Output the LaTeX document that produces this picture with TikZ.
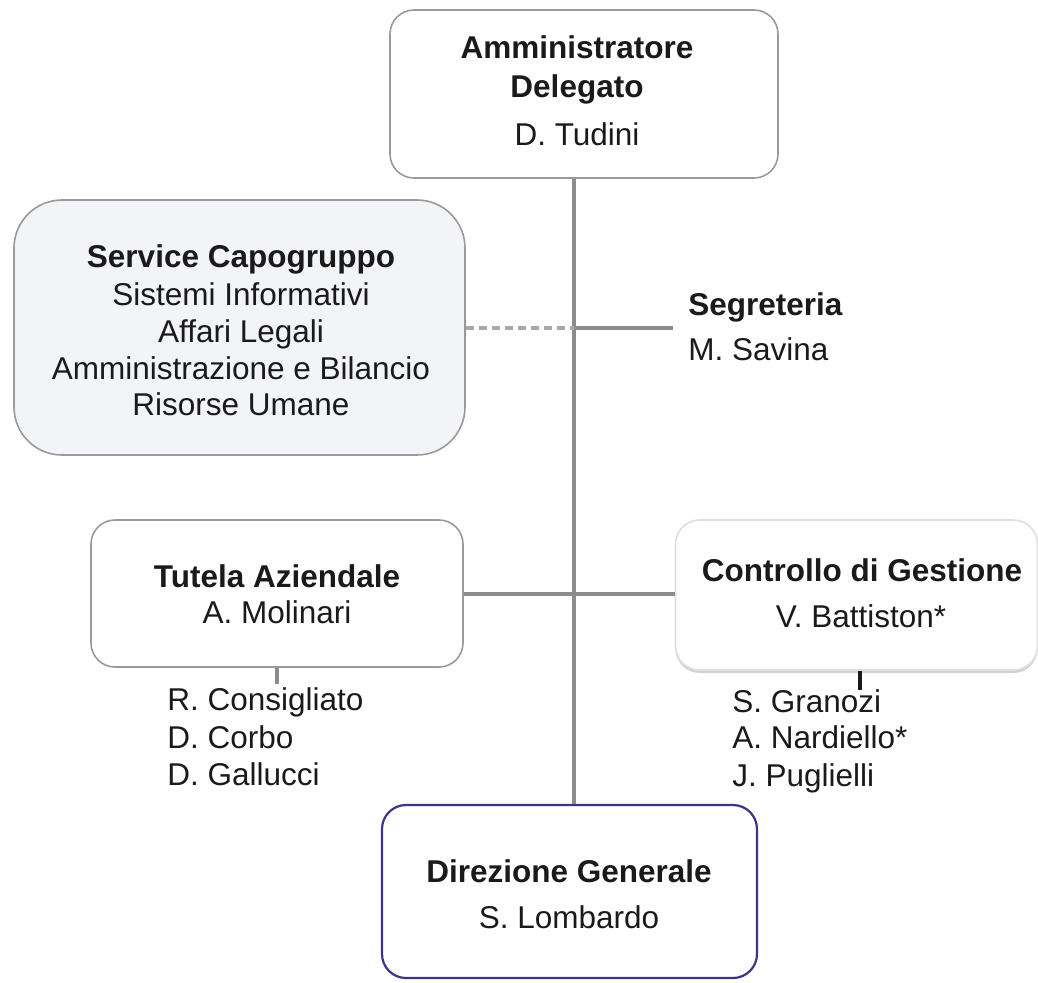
\documentclass[tikz,border=0pt]{standalone}
\usepackage{fontspec}
\setmainfont{Liberation Sans}
\usetikzlibrary{shadows}
\definecolor{txt}{HTML}{1A1A1A}
\definecolor{lineg}{HTML}{8C8C8C}
\definecolor{boxg}{HTML}{9A9A9A}
\definecolor{scfill}{HTML}{F3F4F8}
\definecolor{dgborder}{HTML}{3D3584}
\definecolor{dashg}{HTML}{A8A8A8}
\begin{document}
\begin{tikzpicture}[x=0.5pt,y=-0.5pt,
  box/.style={draw=boxg, line width=0.8pt, rounded corners=12pt, inner sep=0pt},
  conn/.style={draw=lineg, line width=2pt},
  dconn/.style={draw=dashg, line width=2pt, dash pattern=on 4pt off 2.5pt},
  tb/.style={font=\fontsize{15.75}{19}\selectfont\bfseries, text=txt, anchor=base, inner sep=0pt},
  tr/.style={font=\fontsize{15.75}{19}\selectfont, text=txt, anchor=base, inner sep=0pt},
  trl/.style={tr, anchor=base west}
]
\useasboundingbox (0,0) rectangle (1038,982);

% boxes
\node[box, minimum width=194pt, minimum height=84pt] (ad) at (584,94) {};
\node[box, fill=scfill, rounded corners=24pt, minimum width=225.5pt, minimum height=127.5pt] (sc) at (239.5,327.5) {};
\node[box, minimum width=186pt, minimum height=73.5pt] (ta) at (277,593.5) {};
\node[box, draw=gray!25, fill=white, minimum width=181pt, minimum height=75pt,
      drop shadow={shadow xshift=0pt, shadow yshift=-1.5pt, opacity=0.35, fill=gray}] (cg) at (856.5,595) {};
\node[box, draw=dgborder, line width=1.1pt, minimum width=187.5pt, minimum height=86.5pt] (dg) at (569.5,891.5) {};

% coordinates
\coordinate (vx) at (574,0);
\coordinate (segend) at (673,328);
\coordinate (tastub) at (277,684);
\coordinate (cgstub) at (860,690);

% connectors
\draw[conn] (ad.south -| vx) -- (dg.north -| vx);
\draw[conn] (vx |- segend) -- (segend);
\draw[dconn] (sc.east |- segend) -- (vx |- segend);
\draw[conn] (ta.east) -- (ta.east -| cg.west);
\draw[conn] (ta.south) -- (tastub);
\draw[draw=txt, line width=2pt] (cgstub |- cg.south) -- (cgstub);

% texts
\node[tb] (ad1) at (577,58) {Amministratore};
\node[tb] (ad2) at (577,97) {Delegato};
\node[tr] (ad3) at (577,145) {D. Tudini};

\node[tb] (sc1) at (241,267) {Service Capogruppo};
\node[tr] (sc2) at (241,305) {Sistemi Informativi};
\node[tr] (sc3) at (241,342) {Affari Legali};
\node[tr] (sc4) at (241,379) {Amministrazione e Bilancio};
\node[tr] (sc5) at (241,415) {Risorse Umane};

\node[tb, anchor=base west] (seg1) at (688,315) {Segreteria};
\node[trl] (seg2) at (688,360) {M. Savina};

\node[tb] (ta1) at (277,587) {Tutela Aziendale};
\node[tr] (ta2) at (277,623) {A. Molinari};
\node[trl] (tn1) at (167,710) {R. Consigliato};
\node[trl] (tn2) at (167,748) {D. Corbo};
\node[trl] (tn3) at (167,785) {D. Gallucci};

\node[tb] (cg1) at (862,581) {Controllo di Gestione};
\node[tr] (cg2) at (861,627) {V. Battiston*};
\node[trl] (cn1) at (732,712) {S. Granozi};
\node[trl] (cn2) at (732,748) {A. Nardiello*};
\node[trl] (cn3) at (732,786) {J. Puglielli};

\node[tb] (dg1) at (569,882) {Direzione Generale};
\node[tr] (dg2) at (569,928) {S. Lombardo};
\end{tikzpicture}
\end{document}
